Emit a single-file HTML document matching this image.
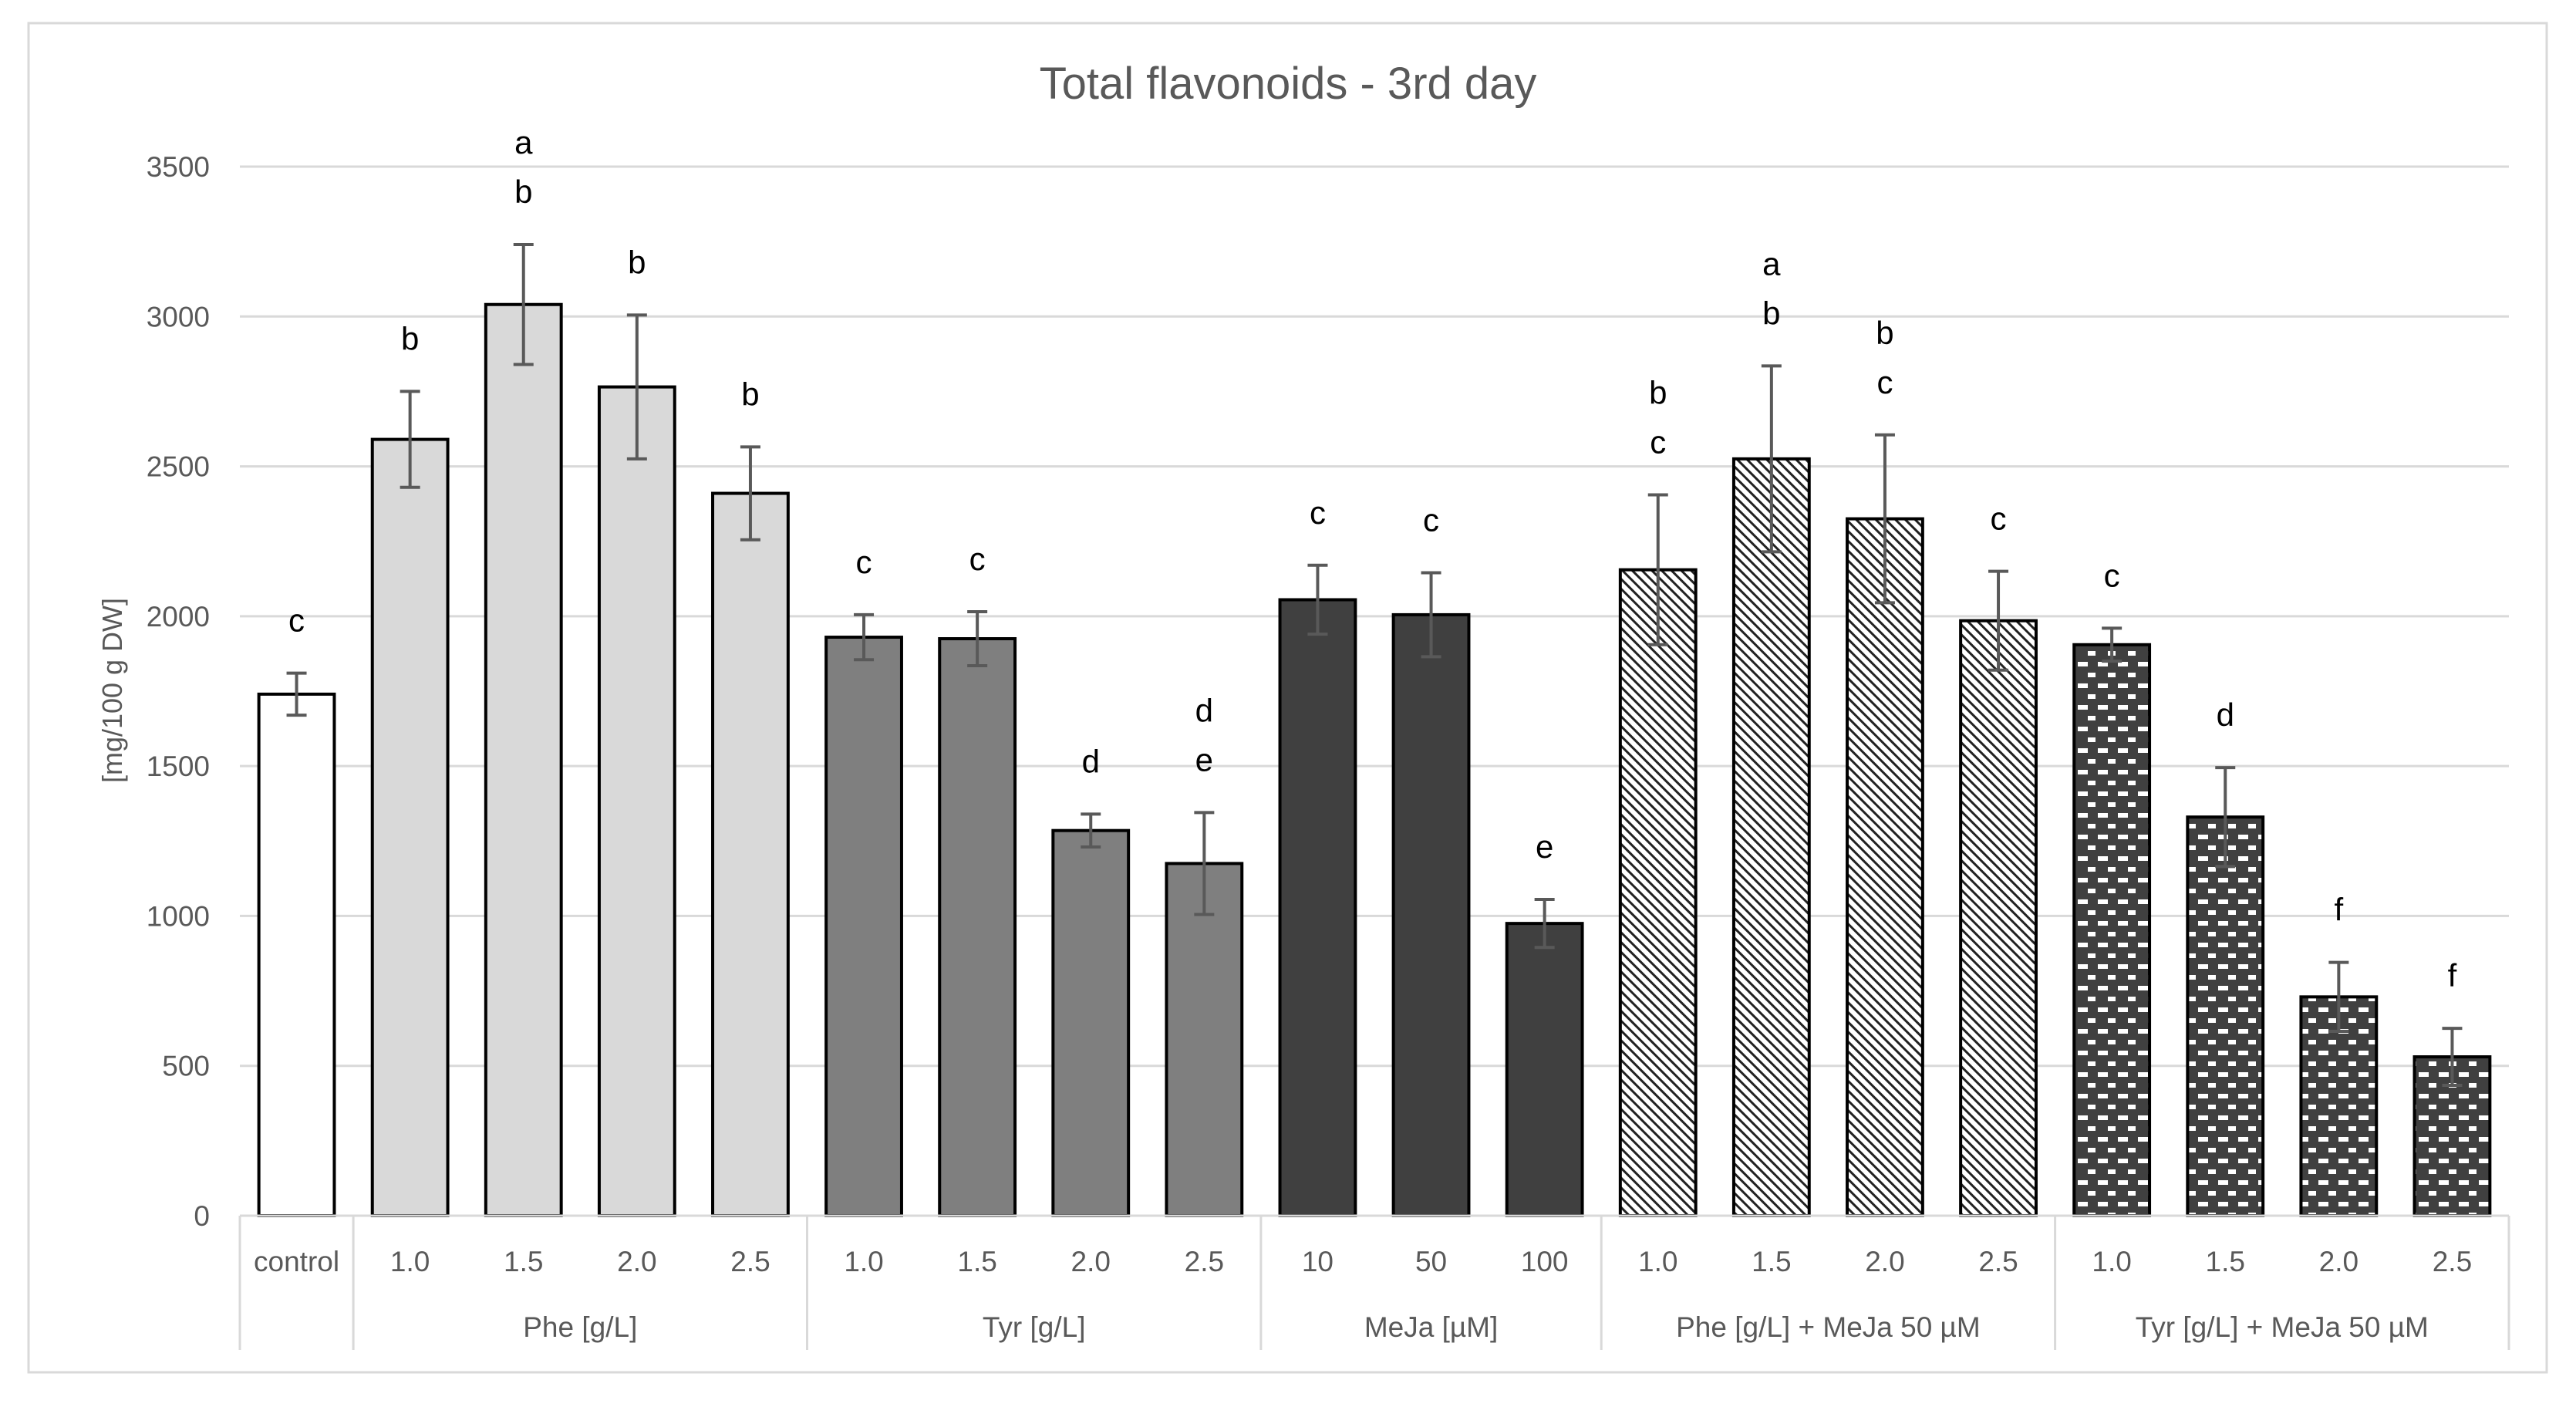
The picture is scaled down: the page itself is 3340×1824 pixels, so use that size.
<!DOCTYPE html>
<html><head><meta charset="utf-8"><style>
html,body{margin:0;padding:0;background:#fff}
svg{display:block}
text{font-family:"Liberation Sans",sans-serif}
</style></head><body>
<svg id="chart" width="3340" height="1824" viewBox="0 0 3340 1824" xmlns="http://www.w3.org/2000/svg">
<defs>
<pattern id="hatch" patternUnits="userSpaceOnUse" width="9" height="9" patternTransform="rotate(-45)">
<rect width="9" height="9" fill="#fff"/><rect x="0" y="0" width="3" height="9" fill="#222"/>
</pattern>
<pattern id="bricks" patternUnits="userSpaceOnUse" width="26" height="28">
<rect width="26" height="28" fill="#404040"/>
<rect x="3" y="4" width="10" height="6" fill="#fff"/>
<rect x="16" y="18" width="10" height="6" fill="#fff"/>
<rect x="0" y="18" width="3" height="6" fill="#fff"/>
</pattern>
</defs>
<rect x="37" y="30" width="3265" height="1749" fill="#fff" stroke="#d9d9d9" stroke-width="3"/>
<text x="1670" y="128" text-anchor="middle" font-size="58" fill="#595959">Total flavonoids - 3rd day</text>
<text transform="translate(158,895) rotate(-90)" text-anchor="middle" font-size="36" fill="#595959">[mg/100 g DW]</text>
<g id="grid"></g><g id="bars"></g><g id="xaxis"></g>
</svg>
<script>
const categories=["control","1.0","1.5","2.0","2.5","1.0","1.5","2.0","2.5","10","50","100","1.0","1.5","2.0","2.5","1.0","1.5","2.0","2.5"];
const values=[1740,2590,3040,2765,2410,1930,1925,1285,1175,2055,2005,975,2155,2525,2325,1985,1905,1330,730,530];
const errors=[70,160,200,240,155,75,90,55,170,115,140,80,250,310,280,165,55,165,115,95];
const letters=[["c"],["b"],["a","b"],["b"],["b"],["c"],["c"],["d"],["d","e"],["c"],["c"],["e"],["b","c"],["a","b"],["b","c"],["c"],["c"],["d"],["f"],["f"]];
const groups=["","Phe [g/L]","Tyr [g/L]","MeJa [µM]","Phe [g/L] + MeJa 50 µM","Tyr [g/L] + MeJa 50 µM"];
const groupSizes=[1,4,4,3,4,4];
const fills=["#ffffff","#d9d9d9","#7f7f7f","#404040","url(#hatch)","url(#bricks)"];
const yTicks=[0,500,1000,1500,2000,2500,3000,3500];

const NS="http://www.w3.org/2000/svg";
const L=311,R=3253,Y0=1576,YMAX=3500,YTOP=216;
const cw=(R-L)/categories.length;
const y=v=>Y0-(v/YMAX)*(Y0-YTOP);
const xc=i=>L+cw*(i+0.5);
function mk(tag,attrs,parent,txt){const e=document.createElementNS(NS,tag);for(const k in attrs)e.setAttribute(k,attrs[k]);if(txt!==undefined)e.textContent=txt;parent.appendChild(e);return e;}
const grid=document.getElementById('grid'),bars=document.getElementById('bars'),xa=document.getElementById('xaxis');
yTicks.forEach(t=>{
  if(t>0){const g=mk('line',{x1:L,x2:R,y1:y(t),y2:y(t),stroke:'#d9d9d9','stroke-width':3},grid);
  
  }
  const tx=mk('text',{x:272,y:y(t)+13,'text-anchor':'end','font-size':37,fill:'#595959'},grid,String(t));
  
  
});
const catGroup=[];
groupSizes.forEach((s,g)=>{for(let k=0;k<s;k++)catGroup.push(g);});
const bw=cw*0.665;
values.forEach((v,i)=>{
  const r=mk('rect',{x:xc(i)-bw/2,y:y(v),width:bw,height:Y0-y(v),fill:fills[catGroup[i]],stroke:'#000','stroke-width':4},bars);
  
  
  const e=errors[i],yt=y(v+e),yb=y(v-e),c=xc(i);
  const eb=mk('path',{d:`M${c},${yt}V${yb}M${c-13},${yt}H${c+13}M${c-13},${yb}H${c+13}`,stroke:'#595959','stroke-width':4,fill:'none'},bars);
  
  
  const ls=letters[i];
  ls.forEach((s,k)=>{
    const ty=yt-54-(ls.length-1-k)*64;
    const t=mk('text',{x:c,y:ty,'text-anchor':'middle','font-size':42,fill:'#000'},bars,s);
    
    
  });
  const cl=mk('text',{x:c,y:1648,'text-anchor':'middle','font-size':37,fill:'#595959'},xa,categories[i]);
  
  
});
const base=mk('line',{x1:L,x2:R,y1:Y0,y2:Y0,stroke:'#d9d9d9','stroke-width':3},xa);


let start=0;
const s0=mk('line',{x1:L,x2:L,y1:Y0,y2:1750,stroke:'#d9d9d9','stroke-width':3},xa);


groupSizes.forEach((s,g)=>{
  const end=start+s,xe=L+cw*end;
  const sep=mk('line',{x1:xe,x2:xe,y1:Y0,y2:1750,stroke:'#d9d9d9','stroke-width':3},xa);
  
  
  if(groups[g]){const gt=mk('text',{x:L+cw*(start+end)/2,y:1733,'text-anchor':'middle','font-size':37,fill:'#595959'},xa,groups[g]);
  
  }
  start=end;
});
</script>
</body></html>
